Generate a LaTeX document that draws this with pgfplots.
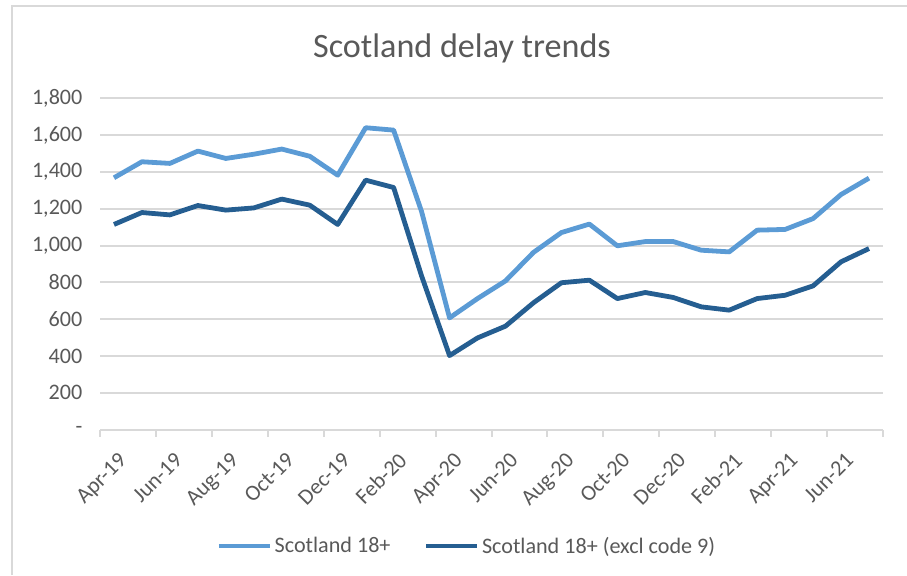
\documentclass[border=0pt]{standalone}
\usepackage{pgfplots}
\pgfplotsset{compat=1.18}
\usepackage{pgfplotstable}
\usepackage{fontspec}
\setmainfont{Carlito}

\definecolor{lightblue}{HTML}{5B9BD5}
\definecolor{darkblue}{HTML}{255E91}
\definecolor{txt}{HTML}{595959}
\definecolor{gridc}{HTML}{D9D9D9}

% Monthly delays, Apr-19 (0) to Jul-21 (27)
\pgfplotstableread{
m  all   excl
0  1369  1115
1  1456  1180
2  1447  1167
3  1514  1218
4  1474  1193
5  1497  1205
6  1525  1253
7  1486  1220
8  1383  1115
9  1641  1356
10 1628  1316
11 1185  835
12 607   402
13 712   498
14 808   562
15 963   689
16 1071  798
17 1117  812
18 999   712
19 1022  745
20 1022  718
21 975   667
22 966   649
23 1084  712
24 1088  730
25 1147  781
26 1278  912
27 1367  984
}\delays

\begin{document}
\begin{tikzpicture}
\useasboundingbox (0pt,0pt) rectangle (680.25pt,431.25pt);
% chart frame
\draw[gridc, line width=1.5pt] (9pt,0pt) -- (9pt,426.75pt) -- (680.25pt,426.75pt);
\node[txt, font=\fontsize{25.6}{30}\selectfont, anchor=base] at (346.5pt,387.75pt) {Scotland delay trends};
\begin{axis}[
  at={(75pt,109.125pt)}, anchor=south west,
  scale only axis, width=587.25pt, height=248.25pt,
  xmin=-0.5, xmax=27.5, ymin=0, ymax=1800,
  separate axis lines,
  axis x line*=bottom, axis y line*=left,
  x axis line style={gridc, line width=1.5pt},
  y axis line style={draw=none},
  ytick={0,200,...,1800},
  yticklabels={-,200,400,600,800,{1,000},{1,200},{1,400},{1,600},{1,800}},
  ymajorgrids,
  major grid style={gridc, line width=1.5pt},
  ytick style={draw=none},
  yticklabel style={font=\fontsize{16.6}{20}\selectfont, text=txt, anchor=east, inner sep=0pt, xshift=-13pt},
  xtick={0,2,...,26},
  xticklabels={Apr-19,Jun-19,Aug-19,Oct-19,Dec-19,Feb-20,Apr-20,Jun-20,Aug-20,Oct-20,Dec-20,Feb-21,Apr-21,Jun-21},
  xtick style={draw=none},
  xticklabel style={font=\fontsize{16.6}{20}\selectfont, text=txt, xshift=2.6pt, yshift=-16pt, rotate=45, anchor=north east, inner sep=0pt},
  extra x ticks={-0.5,1.5,...,27.5},
  extra x tick labels={},
  extra x tick style={major tick length=5.25pt, tick align=outside, xtick style={draw=gridc, line width=1.5pt}, grid=none},
  legend columns=2,
  legend cell align=left,
  legend style={at={(0.469,-0.352)}, anchor=center, draw=none, fill=none,
    font=\fontsize{16.6}{20}\selectfont, text=txt,
    /tikz/every even column/.append style={column sep=23pt}},
  legend image code/.code={\draw[#1, line width=3.6pt] (0pt,0pt) -- (38pt,0pt);},
]
\addplot[lightblue, line width=3.6pt, line join=round] table[x=m, y=all] {\delays};
\addlegendentry{Scotland 18+}
\addplot[darkblue, line width=3.6pt, line join=round] table[x=m, y=excl] {\delays};
\addlegendentry{Scotland 18+ (excl code 9)}
\end{axis}
\end{tikzpicture}
\end{document}
